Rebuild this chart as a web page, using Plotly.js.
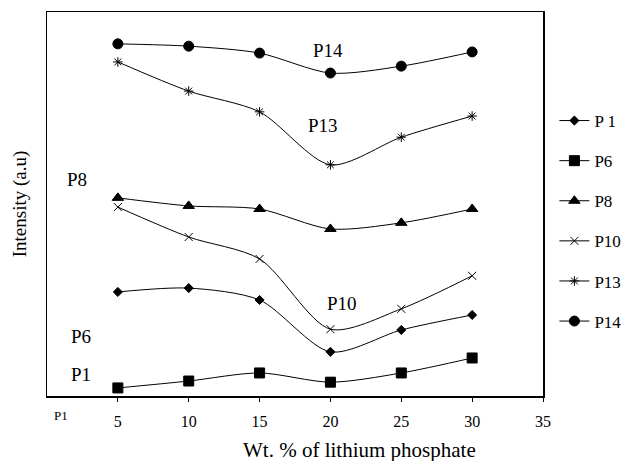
<!DOCTYPE html>
<html>
<head>
<meta charset="utf-8">
<script src="https://cdn.plot.ly/plotly-3.0.1.min.js"></script>
<style>html,body{margin:0;padding:0;background:#fff;}#chart{width:626px;height:461px;}</style>
</head>
<body>
<div id="chart"></div>
<script>
// Wt. % of lithium phosphate
const wt = [5, 10, 15, 20, 25, 30];
// Relative intensity (a.u.)
const p1  = [27.1, 28.1, 25.0, 11.5, 17.2, 21.1];
const p6  = [2.1, 3.9, 6.0, 3.6, 6.0, 9.9];
const p8  = [51.6, 49.5, 48.7, 43.5, 45.1, 48.7];
const p10 = [49.2, 41.4, 35.7, 17.4, 22.7, 31.3];
const p13 = [87.0, 79.4, 74.0, 60.2, 67.4, 72.9];
const p14 = [91.7, 91.1, 89.3, 84.1, 85.9, 89.6];
const seriesNames = ["P 1", "P6", "P8", "P10", "P13", "P14"];
const xTickVals = [5, 10, 15, 20, 25, 30, 35];
const xTickText = ["5", "10", "15", "20", "25", "30", "35"];

const serif = "Liberation Serif, DejaVu Serif, serif";
const symbols = ["diamond", "square", "triangle-up", "x-thin-open", "asterisk-open", "circle"];
const sizes = [7, 10, 10, 8, 8, 10];
const data = [p1, p6, p8, p10, p13, p14];

const traces = data.map((ys, i) => ({
  x: wt, y: ys, type: "scatter", mode: "lines+markers",
  name: seriesNames[i], legendgroup: "g" + i,
  line: {color: "#000", width: 1, shape: "spline", smoothing: 0.8},
  marker: {symbol: symbols[i], size: sizes[i], color: "#000", line: {color: "#000", width: 1}}
}));

const inLabels = [
  {x: 19.8, y: 90, t: "P14"},
  {x: 19.5, y: 70.5, t: "P13"},
  {x: 2.1, y: 56.5, t: "P8"},
  {x: 20.8, y: 24, t: "P10"},
  {x: 2.4, y: 15.5, t: "P6"},
  {x: 2.4, y: 5.5, t: "P1"}
];
const annotations = inLabels.map(a => ({
  x: a.x, y: a.y, xref: "x", yref: "y", text: a.t, showarrow: false,
  xanchor: "center", yanchor: "middle",
  font: {family: serif, size: 19, color: "#000"}
}));
annotations.push({x: 0.028, y: -0.027, xref: "paper", yref: "paper", text: "P1",
  showarrow: false, xanchor: "center", yanchor: "top", font: {family: serif, size: 13, color: "#000"}});
annotations.push({x: 0.63, y: -0.14, xref: "paper", yref: "paper", text: "Wt. % of lithium phosphate",
  showarrow: false, xanchor: "center", yanchor: "middle", font: {family: serif, size: 21, color: "#000"}});

const layout = {
  width: 626, height: 461,
  margin: {l: 47, r: 83, t: 12, b: 65, autoexpand: false},
  paper_bgcolor: "#fff", plot_bgcolor: "#fff",
  showlegend: true,
  legend: {x: 1.023, y: 0.763, xanchor: "left", yanchor: "top", tracegroupgap: 15,
    font: {family: serif, size: 17, color: "#000"}, itemwidth: 30, bgcolor: "rgba(0,0,0,0)"},
  xaxis: {range: [0, 35], tickvals: xTickVals, ticktext: xTickText,
    showgrid: false, zeroline: false, showline: true, linecolor: "#000", linewidth: 1.5,
    mirror: true, ticks: "outside", ticklen: 4, tickcolor: "#000", ticklabelstandoff: 6,
    tickfont: {family: serif, size: 16, color: "#000"}},
  yaxis: {range: [0, 100], showticklabels: false, ticks: "", showgrid: false, zeroline: false,
    showline: true, linecolor: "#000", linewidth: 1.5, mirror: true,
    title: {text: "Intensity (a.u)", font: {family: serif, size: 19, color: "#000"}, standoff: 14}},
  annotations: annotations
};

Plotly.newPlot("chart", traces, layout, {displayModeBar: false, staticPlot: true});
</script>
</body>
</html>
